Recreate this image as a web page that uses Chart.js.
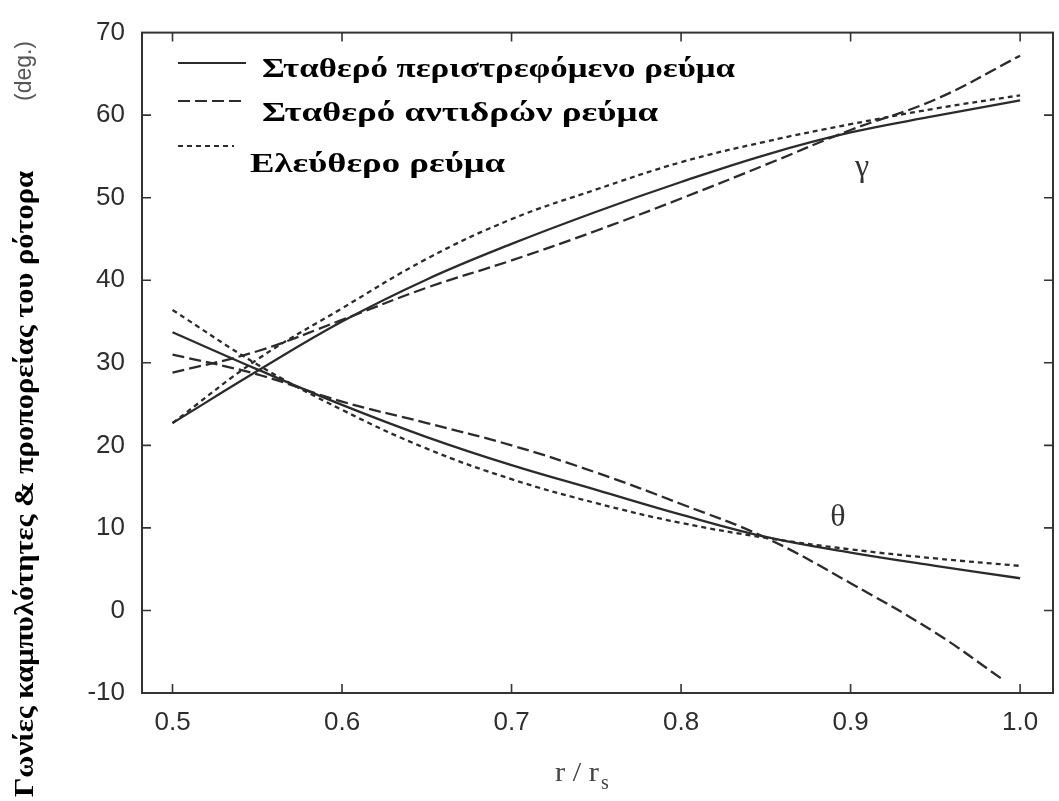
<!DOCTYPE html>
<html>
<head>
<meta charset="utf-8">
<script src="https://cdn.jsdelivr.net/npm/chart.js@4.4.1/dist/chart.umd.min.js"></script>
<style>
  html, body { margin: 0; background: #fff; }
</style>
</head>
<body>
<canvas id="chart" width="1059" height="801"></canvas>
<script>
// r / r_s positions where the curves were read
const rPoints = [0.5, 0.55, 0.6, 0.65, 0.7, 0.75, 0.8, 0.85, 0.9, 0.95, 1.0];
const rPointsLongTheta = [0.5, 0.55, 0.6, 0.65, 0.7, 0.75, 0.8, 0.85, 0.9, 0.95, 0.99];

// gamma curves (rising)
const gammaSolid = [22.7, 29.0, 35.0, 40.1, 44.4, 48.3, 51.9, 55.2, 57.9, 59.9, 61.8];
const gammaLong  = [28.8, 31.4, 35.2, 39.1, 42.4, 46.0, 49.9, 54.0, 58.2, 61.9, 67.2];
const gammaShort = [22.7, 30.4, 36.6, 42.6, 47.4, 51.0, 54.3, 56.8, 58.9, 60.8, 62.4];

// theta curves (falling)
const thetaSolid = [33.7, 29.2, 24.9, 21.0, 17.6, 14.6, 11.6, 8.9, 7.0, 5.4, 3.9];
const thetaLong  = [31.0, 28.6, 25.3, 22.7, 20.0, 16.7, 12.9, 8.8, 3.3, -2.7, -8.4];
const thetaShort = [36.4, 29.8, 24.3, 19.6, 15.9, 13.0, 10.6, 8.8, 7.4, 6.3, 5.4];

const xTicks = [0.5, 0.6, 0.7, 0.8, 0.9, 1.0];
const yTicks = [-10, 0, 10, 20, 30, 40, 50, 60, 70];

const legendLabels = ["Σταθερό περιστρεφόμενο ρεύμα", "Σταθερό αντιδρών ρεύμα", "Ελεύθερο ρεύμα"];
const yTitle = "Γωνίες καμπυλότητες & προπορείας του ρότορα";

const INK = "#2b2b2b";
const SOLID = [];
const LONG = [12, 5];
const SHORT = [5, 4];

const pts = (xs, ys) => xs.map((x, i) => ({ x: x, y: ys[i] }));

function line(label, xs, ys, dash) {
    return {
        label: label,
        data: pts(xs, ys),
        borderColor: INK,
        borderWidth: 2.3,
        borderDash: dash,
        pointRadius: 0,
        fill: false,
        tension: 0.4
    };
}

// stretch text along its baseline to a given length
function fitText(ctx, text, x, y, w) {
    const m = ctx.measureText(text).width;
    ctx.save();
    ctx.translate(x, y);
    ctx.scale(w / m, 1);
    ctx.fillText(text, 0, 0);
    ctx.restore();
}

const frame = {
    id: "frame",
    afterDraw(chart) {
        const { ctx, chartArea: a, scales: { x, y } } = chart;
        ctx.save();

        // box
        ctx.strokeStyle = "#333";
        ctx.lineWidth = 2;
        ctx.setLineDash([]);
        ctx.strokeRect(a.left, a.top, a.right - a.left, a.bottom - a.top);

        // inward tick marks
        ctx.lineWidth = 1.6;
        ctx.beginPath();
        xTicks.forEach(v => {
            const px = x.getPixelForValue(v);
            ctx.moveTo(px, a.bottom); ctx.lineTo(px, a.bottom - 9);
            ctx.moveTo(px, a.top); ctx.lineTo(px, a.top + 9);
        });
        yTicks.slice(1, -1).forEach(v => {
            const py = y.getPixelForValue(v);
            ctx.moveTo(a.left, py); ctx.lineTo(a.left + 9, py);
            ctx.moveTo(a.right, py); ctx.lineTo(a.right - 9, py);
        });
        ctx.stroke();

        // legend
        const rows = [
            { y: 63, x2: 246, tx: 262, ty: 77, w: 473 },
            { y: 101, x2: 244, tx: 262, ty: 121, w: 396 },
            { y: 146, x2: 234, tx: 250, ty: 172, w: 255 }
        ];
        chart.data.datasets.slice(0, 3).forEach((ds, i) => {
            const r = rows[i];
            ctx.strokeStyle = INK;
            ctx.lineWidth = 2;
            ctx.setLineDash(ds.borderDash);
            ctx.beginPath();
            ctx.moveTo(178, r.y);
            ctx.lineTo(r.x2, r.y);
            ctx.stroke();
            ctx.setLineDash([]);
            ctx.fillStyle = "#000";
            ctx.font = "bold 27px 'Liberation Serif'";
            ctx.textAlign = "left";
            ctx.textBaseline = "alphabetic";
            fitText(ctx, legendLabels[i], r.tx, r.ty, r.w);
        });

        // curve labels
        ctx.fillStyle = "#333";
        ctx.font = "32px 'Liberation Serif'";
        ctx.textAlign = "center";
        ctx.textBaseline = "middle";
        ctx.fillText("γ", 862, 168);
        ctx.fillText("θ", 838, 518);

        // axis titles
        ctx.save();
        ctx.translate(33, 797);
        ctx.rotate(-Math.PI / 2);
        ctx.fillStyle = "#000";
        ctx.font = "bold 28px 'Liberation Serif'";
        ctx.textAlign = "left";
        ctx.textBaseline = "alphabetic";
        fitText(ctx, yTitle, 0, 0, 626);
        ctx.restore();

        ctx.save();
        ctx.translate(31, 101);
        ctx.rotate(-Math.PI / 2);
        ctx.fillStyle = "#555";
        ctx.font = "24px 'Liberation Sans'";
        ctx.textAlign = "left";
        ctx.textBaseline = "alphabetic";
        fitText(ctx, "(deg.)", 0, 0, 60);
        ctx.restore();

        ctx.fillStyle = "#444";
        ctx.font = "28px 'Liberation Serif'";
        ctx.textAlign = "left";
        ctx.textBaseline = "alphabetic";
        fitText(ctx, "r / r", 555, 781, 44);
        ctx.font = "20px 'Liberation Serif'";
        ctx.fillText("s", 601, 789);

        ctx.restore();
    }
};

const chart = new Chart(document.getElementById("chart").getContext("2d"), {
    type: "line",
    data: {
        datasets: [
            line(legendLabels[0], rPoints, gammaSolid, SOLID),
            line(legendLabels[1], rPoints, gammaLong, LONG),
            line(legendLabels[2], rPoints, gammaShort, SHORT),
            line(legendLabels[0], rPoints, thetaSolid, SOLID),
            line(legendLabels[1], rPointsLongTheta, thetaLong, LONG),
            line(legendLabels[2], rPoints, thetaShort, SHORT)
        ]
    },
    options: {
        responsive: false,
        animation: false,
        devicePixelRatio: 1,
        layout: { padding: { top: 27, right: 6, left: 0, bottom: 0 } },
        plugins: { legend: { display: false }, tooltip: { enabled: false } },
        scales: {
            x: {
                type: "linear",
                min: 0.482,
                max: 1.0194,
                afterFit: s => { s.height = 108; },
                afterBuildTicks: s => { s.ticks = xTicks.map(v => ({ value: v })); },
                grid: { display: false, drawTicks: false },
                border: { display: false },
                ticks: {
                    padding: 14,
                    color: "#2e2e2e",
                    font: { family: "'Liberation Sans'", size: 26 },
                    callback: v => v.toFixed(1)
                }
            },
            y: {
                min: -10,
                max: 70,
                afterFit: s => { s.width = 142; },
                afterBuildTicks: s => { s.ticks = yTicks.map(v => ({ value: v })); },
                grid: { display: false, drawTicks: false },
                border: { display: false },
                ticks: {
                    padding: 17,
                    color: "#2e2e2e",
                    font: { family: "'Liberation Sans'", size: 26 },
                    callback: v => String(v)
                }
            }
        }
    },
    plugins: [frame]
});
</script>
</body>
</html>
